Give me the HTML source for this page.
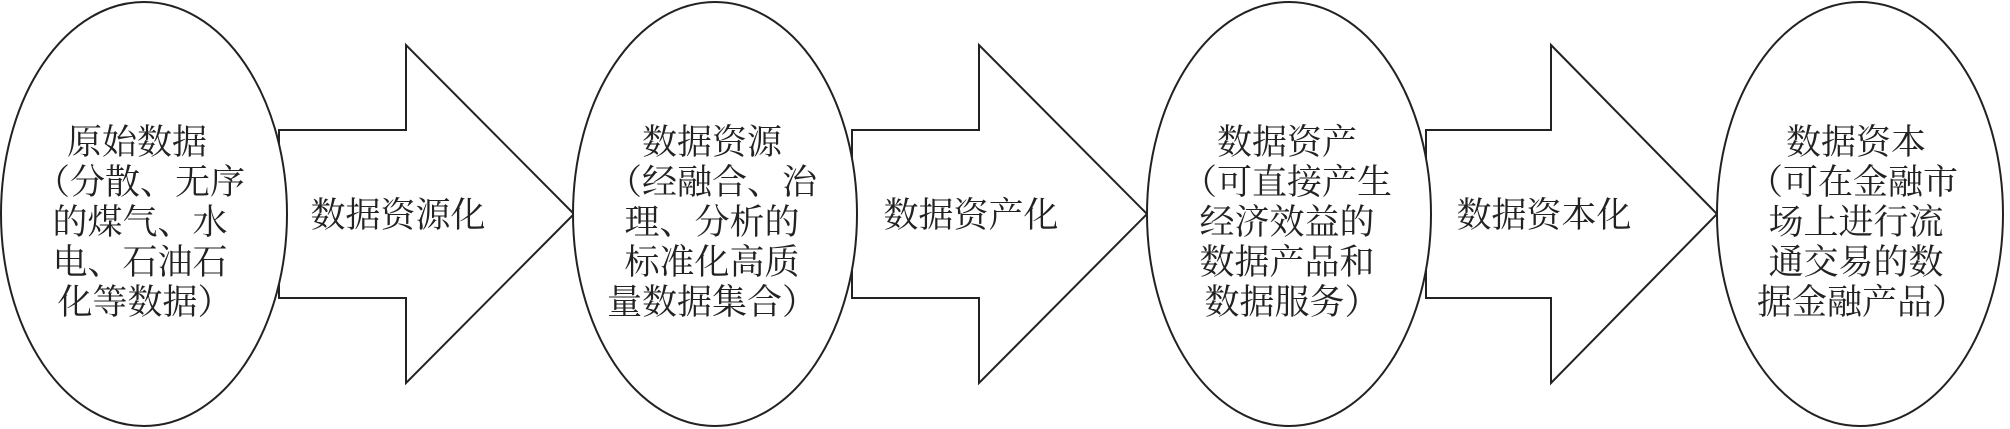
<!DOCTYPE html>
<html><head><meta charset="utf-8"><style>
html,body{margin:0;padding:0;background:#fff;}
svg{display:block;}
text{font-family:"Liberation Serif","Noto Serif CJK SC",serif;font-size:35px;fill:#222;}
</style></head><body>
<svg width="2010" height="429" viewBox="0 0 2010 429" xmlns="http://www.w3.org/2000/svg">
<g fill="#fff" stroke="#222" stroke-width="2">
<polygon points="279,130 406,130 406,45 574,214 406,383 406,298 279,298"/>
<polygon points="852,130 979,130 979,45 1147,214 979,383 979,298 852,298"/>
<polygon points="1426,130 1551,130 1551,45 1717,214 1551,383 1551,298 1426,298"/>
<ellipse cx="144" cy="214" rx="143" ry="212"/>
<ellipse cx="715" cy="214" rx="142" ry="212"/>
<ellipse cx="1289" cy="214" rx="142" ry="212"/>
<ellipse cx="1860" cy="214" rx="143" ry="212"/>
</g>
<g text-anchor="middle">
<text x="398" y="227">数据资源化</text>
<text x="971" y="227">数据资产化</text>
<text x="1544" y="227">数据资本化</text>

<text x="137" y="154">原始数据</text>
<text x="140" y="194">（分散、无序</text>
<text x="140" y="234">的煤气、水</text>
<text x="140" y="274">电、石油石</text>
<text x="145" y="314">化等数据）</text>

<text x="712" y="154">数据资源</text>
<text x="712" y="194">（经融合、治</text>
<text x="712" y="234">理、分析的</text>
<text x="712" y="274">标准化高质</text>
<text x="712" y="314">量数据集合）</text>

<text x="1287" y="154">数据资产</text>
<text x="1287" y="194">（可直接产生</text>
<text x="1287" y="234">经济效益的</text>
<text x="1287" y="274">数据产品和</text>
<text x="1292" y="314">数据服务）</text>

<text x="1856" y="154">数据资本</text>
<text x="1853" y="194">（可在金融市</text>
<text x="1856" y="234">场上进行流</text>
<text x="1856" y="274">通交易的数</text>
<text x="1862" y="314">据金融产品）</text>
</g>
</svg>
</body></html>
